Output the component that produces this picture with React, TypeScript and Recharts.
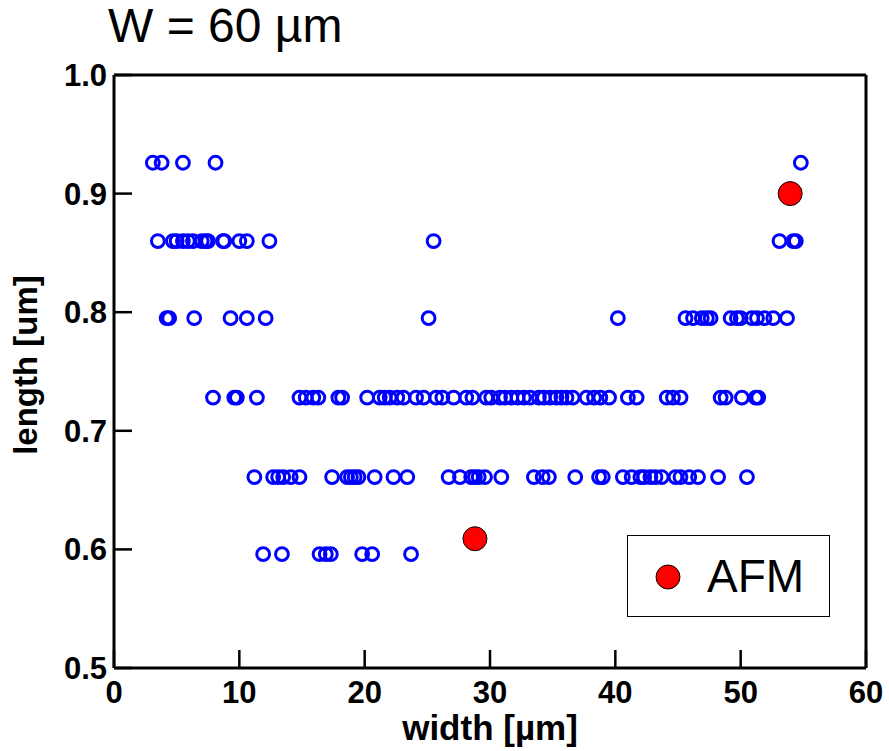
import React from 'react';
import { ScatterChart, Scatter, XAxis, YAxis, Legend, Label } from 'recharts';

const xTicks = [0, 10, 20, 30, 40, 50, 60];
const yTicks = [0.5, 0.6, 0.7, 0.8, 0.9, 1.0];

const rowLevels = [0.926, 0.86, 0.795, 0.728, 0.661, 0.596];
const row926 = [3.1, 3.8, 5.5, 8.1, 54.8];
const row860 = [3.5, 4.7, 5.0, 5.5, 5.9, 6.3, 7.0, 7.3, 7.5, 8.7, 8.8, 10.0, 10.6, 12.4, 25.5, 53.1, 54.2, 54.4];
const row795 = [4.2, 4.4, 6.4, 9.3, 10.6, 12.1, 25.1, 40.2, 45.6, 46.2, 46.9, 47.3, 47.6, 49.2, 49.7, 50.0, 50.9, 51.3, 51.9, 52.6, 53.7];
const row728 = [7.9, 9.6, 9.8, 11.4, 14.8, 15.3, 15.9, 16.3, 17.9, 18.2, 20.2, 21.2, 21.6, 22.0, 22.6, 23.1, 24.1, 24.7, 25.7, 26.2, 27.1, 28.1, 28.6, 29.7, 30.1, 30.8, 31.2, 31.7, 32.2, 32.7, 33.2, 33.9, 34.3, 34.8, 35.3, 35.7, 36.1, 36.6, 37.7, 38.3, 38.8, 39.5, 41.0, 41.7, 44.1, 44.6, 45.2, 48.4, 48.8, 50.1, 51.2, 51.4];
const row661 = [11.2, 12.7, 13.1, 13.5, 14.1, 14.8, 17.4, 18.6, 18.9, 19.2, 19.5, 20.8, 22.3, 23.4, 26.7, 27.6, 28.5, 28.8, 29.1, 29.6, 30.9, 33.5, 34.2, 34.7, 36.8, 38.7, 39.0, 40.6, 41.3, 42.0, 42.3, 42.8, 43.2, 43.7, 44.8, 45.2, 45.9, 46.6, 48.2, 50.5];
const row596 = [11.9, 13.4, 16.4, 16.9, 17.3, 19.8, 20.6, 23.7];

const afmWidth = [28.8, 53.95];
const afmLength = [0.609, 0.9];

const rows = [row926, row860, row795, row728, row661, row596];
const simData = rows.flatMap((xs, i) => xs.map((x) => ({ x, y: rowLevels[i] })));
const afmData = afmWidth.map((x, i) => ({ x, y: afmLength[i] }));

const FONT = '"Liberation Sans", Arial, sans-serif';
const tickStyle = { fontSize: 31, fontWeight: 700, fill: '#000', fontFamily: FONT };
const axisLineStyle = { stroke: '#000', strokeWidth: 3 };
const tickLineStyle = { stroke: '#000', strokeWidth: 2.5 };

const OpenCircle = (props: any) => (
  <circle cx={props.cx} cy={props.cy} r={6.4} fill="none" stroke="#0000FF" strokeWidth={3} />
);
const RedDot = (props: any) => (
  <circle cx={props.cx} cy={props.cy} r={12} fill="#FF0000" stroke="#000" strokeWidth={1} />
);

const LegendBox = () => (
  <div
    style={{
      width: 203,
      height: 82,
      boxSizing: 'border-box',
      border: '1.5px solid #000',
      background: '#fff',
      display: 'flex',
      alignItems: 'center',
      fontFamily: FONT,
    }}
  >
    <svg width={79} height={82} style={{ display: 'block' }}>
      <circle cx={40} cy={42} r={12} fill="#FF0000" stroke="#000" strokeWidth={1} />
    </svg>
    <span style={{ fontSize: 46, color: '#000', lineHeight: 1 }}>AFM</span>
  </div>
);

export default function App() {
  return (
    <div style={{ position: 'absolute', left: 0, top: 0, width: 889, height: 751, background: '#fff' }}>
      <div
        style={{
          position: 'absolute',
          left: 108,
          top: 0,
          fontFamily: FONT,
          fontSize: 48,
          color: '#000',
          lineHeight: 1.1,
        }}
      >
        W = 60 µm
      </div>
      <ScatterChart width={889} height={751} margin={{ top: 74, right: 22, bottom: 0, left: 0 }}>
        <XAxis
          xAxisId="b"
          type="number"
          dataKey="x"
          domain={[0, 60]}
          ticks={xTicks}
          height={83}
          tickSize={-18}
          tickMargin={31}
          axisLine={axisLineStyle}
          tickLine={tickLineStyle}
          tick={tickStyle}
          allowDataOverflow
        >
          <Label
            content={() => (
              <text x={490} y={727} textAnchor="middle" dominantBaseline="central" fontFamily={FONT} fontWeight={700} fontSize={35} fill="#000">
                width [µm]
              </text>
            )}
          />
        </XAxis>
        <XAxis
          xAxisId="t"
          orientation="top"
          type="number"
          domain={[0, 60]}
          ticks={xTicks}
          height={1}
          tickSize={-18}
          tick={false}
          axisLine={axisLineStyle}
          tickLine={tickLineStyle}
          allowDataOverflow
        />
        <YAxis
          yAxisId="l"
          type="number"
          dataKey="y"
          domain={[0.5, 1.0]}
          ticks={yTicks}
          width={114}
          tickSize={-18}
          tickMargin={25}
          axisLine={axisLineStyle}
          tickLine={tickLineStyle}
          tick={tickStyle}
          tickFormatter={(v: number) => v.toFixed(1)}
          allowDataOverflow
        >
          <Label
            content={() => (
              <text x={25} y={365} transform="rotate(-90 25 365)" textAnchor="middle" dominantBaseline="central" fontFamily={FONT} fontWeight={700} fontSize={33} fill="#000">
                length [um]
              </text>
            )}
          />
        </YAxis>
        <YAxis
          yAxisId="r"
          orientation="right"
          type="number"
          domain={[0.5, 1.0]}
          ticks={yTicks}
          width={1}
          tickSize={-18}
          tick={false}
          axisLine={axisLineStyle}
          tickLine={tickLineStyle}
          allowDataOverflow
        />
        <Scatter
          name="sim"
          data={simData}
          xAxisId="b"
          yAxisId="l"
          shape={OpenCircle}
          isAnimationActive={false}
          legendType="none"
        />
        <Scatter
          name="AFM"
          data={afmData}
          xAxisId="b"
          yAxisId="l"
          shape={RedDot}
          isAnimationActive={false}
        />
        <Legend
          layout="vertical"
          align="center"
          verticalAlign="middle"
          wrapperStyle={{ left: 627, top: 535, width: 203, height: 82 }}
          content={() => <LegendBox />}
        />
      </ScatterChart>
    </div>
  );
}
